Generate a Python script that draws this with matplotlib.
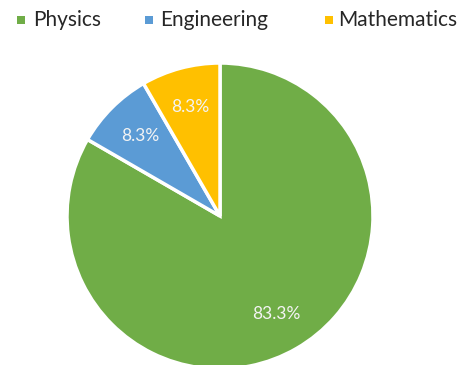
import matplotlib.pyplot as plt
from matplotlib.patches import Rectangle

# --- Data ---
labels = ['Physics', 'Engineering', 'Mathematics']
counts = [10, 1, 1]
colors = ['#70AD47', '#5B9BD5', '#FFC000']

plt.rcParams['font.family'] = ['Lato', 'DejaVu Sans']

W, H = 460, 365
fig = plt.figure(figsize=(W / 100, H / 100), dpi=100)
ax = fig.add_axes([67 / W, -4 / H, 306 / W, 306 / H])

wedges, texts, autotexts = ax.pie(
    counts, colors=colors, startangle=90, counterclock=False,
    autopct='%1.1f%%', pctdistance=0.74,
    wedgeprops=dict(edgecolor='white', linewidth=2.5),
    textprops=dict(color='#F4F4F4', fontsize=12.5),
)
ax.set_xlim(-1, 1)
ax.set_ylim(-1, 1)
ax.set_aspect('equal')
ax.axis('off')

# Legend across the top, placed by hand (pixel positions)
marker_x = [17, 145, 325]
text_x = [33, 160, 338]
y_mid = 20
for mx, tx, c, lab in zip(marker_x, text_x, colors, labels):
    fig.patches.append(Rectangle(((mx) / W, 1 - (y_mid + 4) / H), 8 / W, 8 / H,
                                 transform=fig.transFigure, facecolor=c,
                                 edgecolor='none'))
    fig.text(tx / W, 1 - y_mid / H, lab, fontsize=15, color='#262626',
             ha='left', va='center')

fig.savefig('out.png', dpi=100)
